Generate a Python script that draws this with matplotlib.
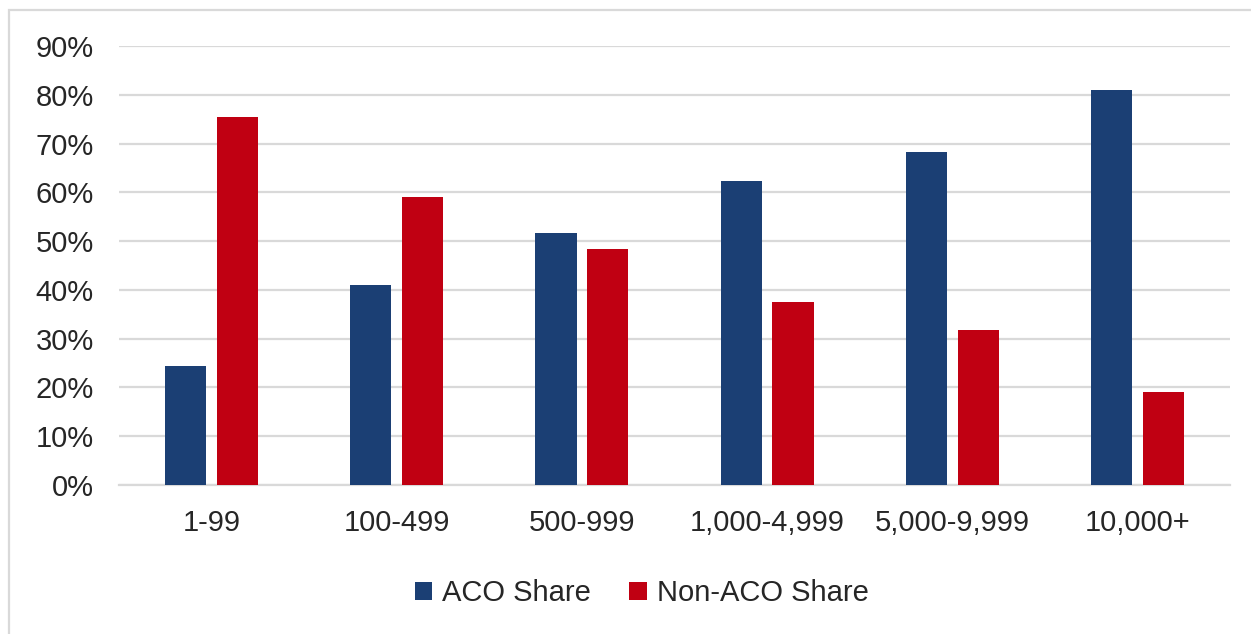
import matplotlib
matplotlib.use("Agg")
import matplotlib.pyplot as plt
import numpy as np
from matplotlib.patches import Rectangle
from matplotlib.ticker import PercentFormatter

# practice size bands and the share of each group
categories = ["1-99", "100-499", "500-999", "1,000-4,999", "5,000-9,999", "10,000+"]
aco_share = [24.5, 41.0, 51.7, 62.4, 68.3, 80.9]
non_aco_share = [75.5, 59.0, 48.3, 37.6, 31.7, 19.1]

blue = "#1b3f74"
red = "#c00012"
text_col = "#262626"
grid_col = "#d9d9d9"

plt.rcParams["font.family"] = ["Liberation Sans", "DejaVu Sans"]

fig = plt.figure(figsize=(12.51, 6.34), dpi=100)
ax = fig.add_axes([0.0951, 0.235, 0.8881, 0.6924])

x = np.arange(len(categories))
w = 0.222
off = 0.14
ax.bar(x - off, aco_share, w, color=blue, label="ACO Share", zorder=3)
ax.bar(x + off, non_aco_share, w, color=red, label="Non-ACO Share", zorder=3)

ax.set_xlim(-0.5, len(categories) - 0.5)
ax.set_ylim(0, 90)
ax.set_yticks(np.arange(0, 91, 10))
ax.yaxis.set_major_formatter(PercentFormatter(decimals=0))
ax.set_xticks(x)
ax.set_xticklabels(categories)

ax.grid(axis="y", color=grid_col, linewidth=1.6, zorder=0)
for s in ["top", "right", "left"]:
    ax.spines[s].set_visible(False)
ax.spines["bottom"].set_color(grid_col)
ax.spines["bottom"].set_linewidth(1.6)
ax.tick_params(axis="both", length=0, labelsize=21, colors=text_col)
ax.tick_params(axis="y", pad=18)
ax.tick_params(axis="x", pad=17)

fig.legend(loc="center", bbox_to_anchor=(0.513, 0.064), ncol=2, frameon=False,
           fontsize=21, handlelength=0.6, handleheight=0.6, handletextpad=0.35,
           columnspacing=1.3, labelcolor=text_col)

# light frame around the chart
fig.patches.append(Rectangle((9 / 1251, -0.05), 1.1, 1 - 10 / 634 + 0.05,
                             transform=fig.transFigure, fill=False,
                             edgecolor=grid_col, linewidth=1.6))

fig.savefig("out.png", dpi=100, facecolor="white")
